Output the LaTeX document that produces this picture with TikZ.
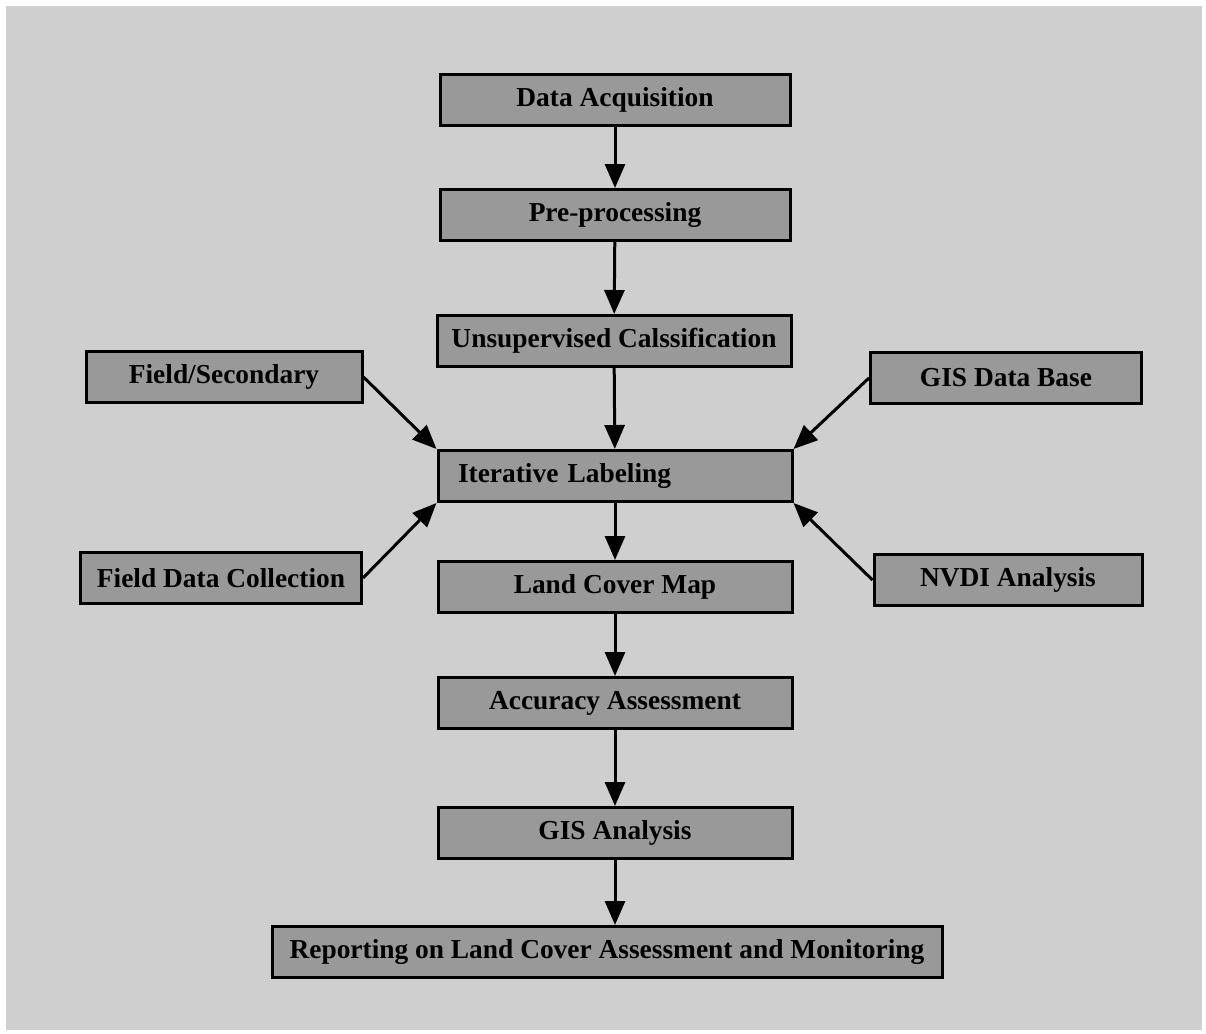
\documentclass[tikz,border=0pt]{standalone}
\usepackage{fontspec}
\setmainfont{Liberation Serif}
\usetikzlibrary{arrows.meta}
\begin{document}
\begin{tikzpicture}[x=0.5pt,y=-0.5pt,
  box/.style={draw=black, line width=1.5pt, fill=black!40, minimum height=25.5pt,
    inner sep=0pt, font=\fontsize{13.7}{15}\selectfont\bfseries},
  arr/.style={line width=1.5pt, -{Triangle[length=12pt,width=10pt]}}]
\useasboundingbox (0,0) rectangle (1206,1034);
\fill[black!19] (6,6) rectangle (1202,1030);
% main column
\node[box, minimum width=175pt] (da) at (615,100) {Data Acquisition};
\node[box, minimum width=175pt] (pp) at (615,215) {Pre-processing};
\node[box, minimum width=177pt] (uc) at (614,341) {Unsupervised Calssification};
\node[box, minimum width=177pt, text width=157pt, align=left, inner xsep=10pt] (il) at (615,476) {Iterative Labeling};
\node[box, minimum width=177pt] (lcm) at (615,587) {Land Cover Map};
\node[box, minimum width=177pt] (aa) at (615,703) {Accuracy Assessment};
\node[box, minimum width=177pt] (gis) at (615,833) {GIS Analysis};
\node[box, minimum width=335pt] (rep) at (607,952) {Reporting on Land Cover Assessment and Monitoring};
% side boxes
\node[box, minimum width=138pt] (fs) at (224,377) {Field/Secondary};
\node[box, minimum width=140.5pt] (fdc) at (221,578) {Field Data Collection};
\node[box, minimum width=135.5pt] (gdb) at (1006,378) {GIS Data Base};
\node[box, minimum width=134pt] (nvdi) at (1008,580) {NVDI Analysis};
% vertical arrows
\draw[arr] (da) -- (pp);
\draw[arr] (pp) -- (uc);
\draw[arr] (uc) -- (il);
\draw[arr] (il) -- (lcm);
\draw[arr] (lcm) -- (aa);
\draw[arr] (aa) -- (gis);
\draw[arr] (gis.south) -- (gis.south |- rep.north);
% side arrows
\draw[arr] (fs.east) -- (il.north west);
\draw[arr] (fdc.east) -- (il.south west);
\draw[arr] (gdb.west) -- (il.north east);
\draw[arr] (nvdi.west) -- (il.south east);
\end{tikzpicture}
\end{document}
